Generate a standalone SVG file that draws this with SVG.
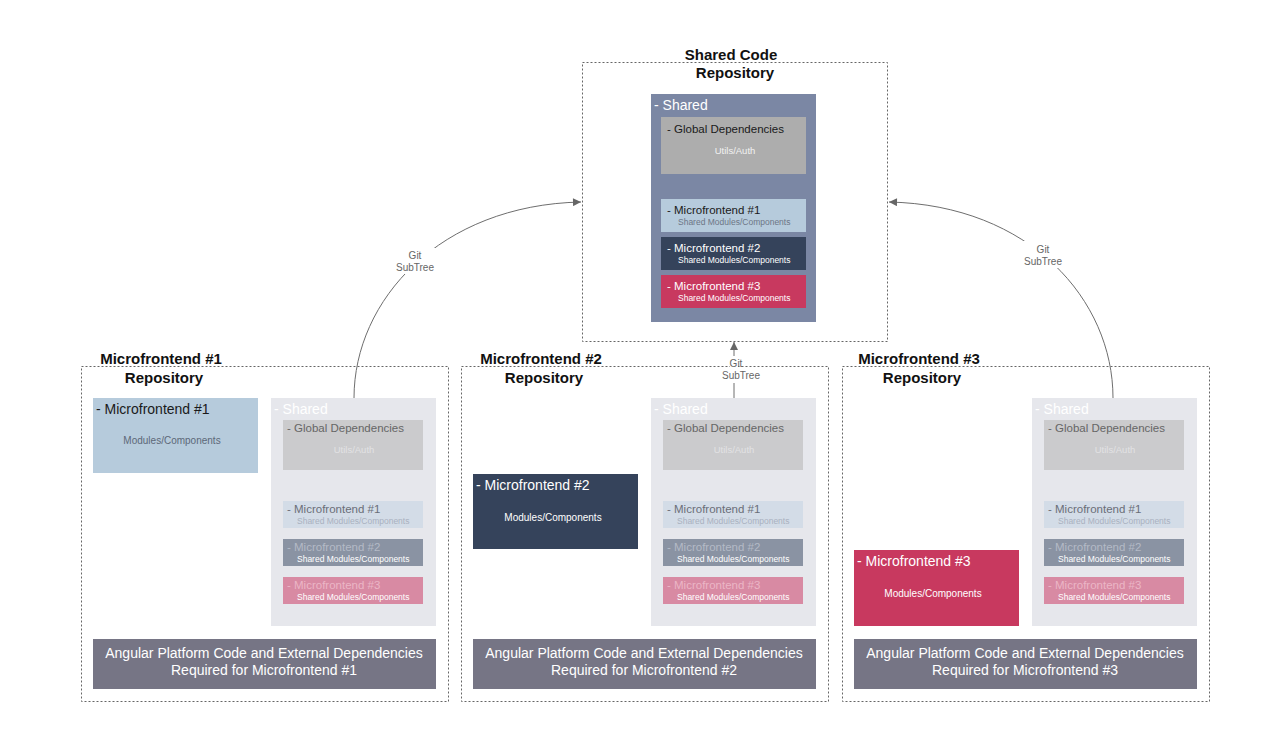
<svg xmlns="http://www.w3.org/2000/svg" width="1280" height="749" viewBox="0 0 1280 749">
<defs>
<style>
text{font-family:"Liberation Sans",Arial,sans-serif}
.repo{fill:none;stroke:#666;stroke-width:1;stroke-dasharray:2 2}
.title{font-size:15px;font-weight:bold;fill:#111;text-anchor:middle}
.h14{font-size:14px}
.h11{font-size:11.5px}
.s85{font-size:8.5px}
.mid{text-anchor:middle}
.conn{fill:none;stroke:#6e6e6e;stroke-width:1}
.lbl{font-size:10px;fill:#666;text-anchor:middle}
</style>
<marker id="arr" viewBox="0 0 10 10" refX="10" refY="5" markerWidth="10" markerHeight="8" markerUnits="userSpaceOnUse" orient="auto">
<path d="M0 0 L10 5 L0 10 z" fill="#666"/>
</marker>
<g id="fadedShared">
<rect x="0" y="0" width="165" height="228" fill="#e6e7ec"/>
<text x="3" y="16" class="h14" fill="#ffffff">- Shared</text>
<rect x="12" y="22" width="140" height="50" fill="#cbcbcd"/>
<text x="16" y="34" class="h11" fill="#666">- Global Dependencies</text>
<text x="83" y="55" class="mid" font-size="9.5" fill="#e2e2e4">Utils/Auth</text>
<rect x="12" y="103" width="140" height="27" fill="#d3dce7"/>
<text x="16" y="115" class="h11" fill="#6a6e78">- Microfrontend #1</text>
<text x="26" y="126" class="s85" fill="#a9b1bf">Shared Modules/Components</text>
<rect x="12" y="141" width="140" height="27" fill="#8a93a3"/>
<text x="16" y="153" class="h11" fill="#b4bac6">- Microfrontend #2</text>
<text x="26" y="164" class="s85" fill="#ffffff">Shared Modules/Components</text>
<rect x="12" y="179" width="140" height="27" fill="#d88aa3"/>
<text x="16" y="191" class="h11" fill="#ebb6c6">- Microfrontend #3</text>
<text x="26" y="202" class="s85" fill="#ffffff">Shared Modules/Components</text>
</g>
</defs>
<rect width="1280" height="749" fill="#ffffff"/>

<g id="shared-repo">
<rect x="582.5" y="62.5" width="305" height="279" class="repo"/>
<text x="731" y="60" class="title">Shared Code</text>
<text x="735" y="78" class="title">Repository</text>
<rect x="651" y="94" width="165" height="228" fill="#7b87a4"/>
<text x="654" y="110" class="h14" fill="#ffffff">- Shared</text>
<rect x="661" y="117" width="145" height="57" fill="#adadad"/>
<text x="667" y="133" class="h11" fill="#1a1a1a">- Global Dependencies</text>
<text x="735" y="154" class="mid" font-size="9.5" fill="#f2f2f2">Utils/Auth</text>
<rect x="661" y="199" width="145" height="33" fill="#b6cbdc"/>
<text x="667" y="214" class="h11" fill="#1a1a1a">- Microfrontend #1</text>
<text x="678" y="225" class="s85" fill="#6d7686">Shared Modules/Components</text>
<rect x="661" y="237" width="145" height="33" fill="#35435b"/>
<text x="667" y="252" class="h11" fill="#ffffff">- Microfrontend #2</text>
<text x="678" y="263" class="s85" fill="#ffffff">Shared Modules/Components</text>
<rect x="661" y="275" width="145" height="33" fill="#c8395f"/>
<text x="667" y="290" class="h11" fill="#ffffff">- Microfrontend #3</text>
<text x="678" y="301" class="s85" fill="#ffffff">Shared Modules/Components</text>
</g>

<g id="mf1-repo">
<rect x="81.5" y="366.5" width="367" height="335" class="repo"/>
<text x="161" y="364" class="title">Microfrontend #1</text>
<text x="164" y="383" class="title">Repository</text>
<rect x="93" y="398" width="165" height="75" fill="#b6cbdc"/>
<text x="96" y="414" class="h14" fill="#1a1a1a">- Microfrontend #1</text>
<text x="172" y="444" class="mid" font-size="10" fill="#5d6878">Modules/Components</text>
<use href="#fadedShared" x="271" y="398"/>
<rect x="93" y="639" width="343" height="50" fill="#767585"/>
<text x="264" y="658" class="h14 mid" fill="#ffffff">Angular Platform Code and External Dependencies</text>
<text x="264" y="675" class="h14 mid" fill="#ffffff">Required for Microfrontend #1</text>
</g>

<g id="mf2-repo">
<rect x="461.5" y="366.5" width="367" height="335" class="repo"/>
<text x="541" y="364" class="title">Microfrontend #2</text>
<text x="544" y="383" class="title">Repository</text>
<rect x="473" y="474" width="165" height="75" fill="#35435b"/>
<text x="476" y="490" class="h14" fill="#ffffff">- Microfrontend #2</text>
<text x="553" y="521" class="mid" font-size="10" fill="#ffffff">Modules/Components</text>
<use href="#fadedShared" x="651" y="398"/>
<rect x="473" y="639" width="343" height="50" fill="#767585"/>
<text x="644" y="658" class="h14 mid" fill="#ffffff">Angular Platform Code and External Dependencies</text>
<text x="644" y="675" class="h14 mid" fill="#ffffff">Required for Microfrontend #2</text>
</g>

<g id="mf3-repo">
<rect x="842.5" y="366.5" width="367" height="335" class="repo"/>
<text x="919" y="364" class="title">Microfrontend #3</text>
<text x="922" y="383" class="title">Repository</text>
<rect x="854" y="550" width="165" height="76" fill="#c8395f"/>
<text x="857" y="566" class="h14" fill="#ffffff">- Microfrontend #3</text>
<text x="933" y="597" class="mid" font-size="10" fill="#ffffff">Modules/Components</text>
<use href="#fadedShared" x="1032" y="398"/>
<rect x="854" y="639" width="343" height="50" fill="#767585"/>
<text x="1025" y="658" class="h14 mid" fill="#ffffff">Angular Platform Code and External Dependencies</text>
<text x="1025" y="675" class="h14 mid" fill="#ffffff">Required for Microfrontend #3</text>
</g>

<g id="connectors">
<path d="M354 398 C354 300 440 205 581 202" class="conn" marker-end="url(#arr)"/>
<rect x="395" y="248" width="40" height="26" fill="#ffffff"/>
<text x="415" y="259" class="lbl">Git</text>
<text x="415" y="271" class="lbl">SubTree</text>

<path d="M1113 398 C1113 300 1030 205 889 202" class="conn" marker-end="url(#arr)"/>
<rect x="1023" y="241" width="40" height="27" fill="#ffffff"/>
<text x="1043" y="253" class="lbl">Git</text>
<text x="1043" y="265" class="lbl">SubTree</text>

<path d="M734 398 L734 342" class="conn" marker-end="url(#arr)"/>
<rect x="730" y="356" width="8" height="27" fill="#ffffff"/>
<text x="736" y="367" class="lbl">Git</text>
<text x="741" y="379" class="lbl">SubTree</text>
</g>
</svg>
